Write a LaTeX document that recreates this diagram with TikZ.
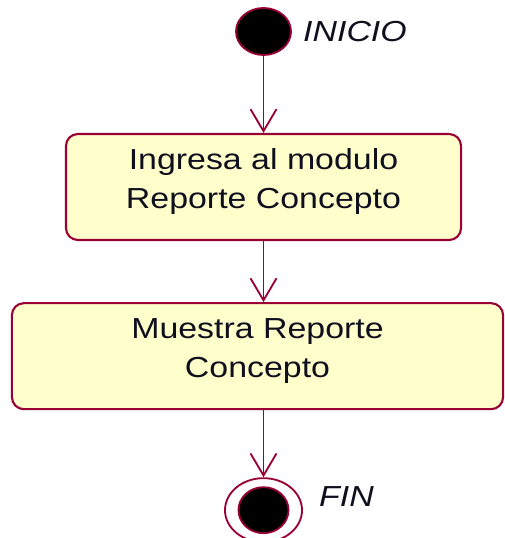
\documentclass[tikz,border=0pt]{standalone}
\usepackage{fontspec}
\setmainfont{Liberation Sans}[FakeStretch=1.17]
\usepackage{tikz}
\usetikzlibrary{positioning, arrows.meta, shapes.geometric}
\definecolor{umlred}{RGB}{153,0,51}
\definecolor{umlfill}{RGB}{255,255,204}
\definecolor{inktext}{RGB}{15,15,30}

\begin{document}
\begin{tikzpicture}[x=0.025cm, y=-0.025cm,
    txt/.style={font=\fontsize{20.6}{27.7}\selectfont, text=inktext},
    inicio/.style={ellipse, fill=black, draw=umlred, line width=1.3pt,
                   minimum width=13.75mm, minimum height=11.75mm, inner sep=0pt},
    finout/.style={ellipse, fill=white, draw=umlred, line width=1.3pt,
                   minimum width=19.25mm, minimum height=16mm, inner sep=0pt},
    finin/.style={ellipse, fill=black, draw=umlred, line width=1.3pt,
                  minimum width=12.5mm, minimum height=11.5mm, inner sep=0pt},
    act/.style={txt, draw=umlred, fill=umlfill, rounded corners=3mm, line width=1.5pt,
                minimum height=26.5mm, text depth=11.5pt, align=center},
    lbl/.style={txt, font=\fontsize{20.6}{27.7}\selectfont\itshape, inner sep=0pt},
    arr/.style={-{Straight Barb[length=5.5mm, width=6.5mm]}, draw=umlred, line width=1.3pt}
  ]
  \useasboundingbox (0,0) rectangle (505,538);
  \node[inicio] (ini) at (263.5,31.5) {};
  \node[lbl, right=2.75mm of ini] (inilbl) {INICIO};
  \node[act, minimum width=98.75mm, below=19.25mm of ini] (ingresa)
    {Ingresa al modulo\\Reporte Concepto};
  \node[act, minimum width=122.75mm, below=15.25mm of ingresa, xshift=-1.5mm] (muestra)
    {Muestra Reporte\\Concepto};
  \node[finout, below=16.75mm of muestra, xshift=1.5mm] (fin) {};
  \node[finin] (fincore) at (fin) {};
  \node[lbl, right=4mm of fin, yshift=3.5mm] (finlbl) {FIN};
  \draw[arr] (ini) -- (ingresa);
  \draw[arr] (ingresa.south) -- (ingresa.south |- muestra.north);
  \draw[arr] (fin |- muestra.south) -- (fin);
\end{tikzpicture}
\end{document}
